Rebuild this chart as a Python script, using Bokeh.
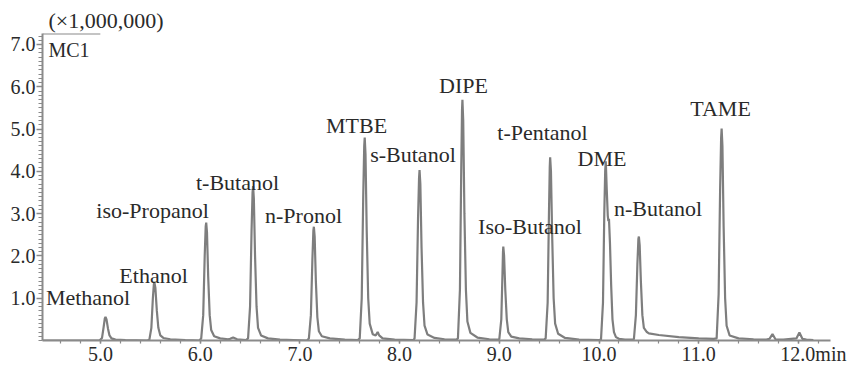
import numpy as np
from bokeh.plotting import figure
from bokeh.models import FixedTicker, NumeralTickFormatter, Label, ColumnDataSource
from bokeh.core.properties import value
from bokeh.embed import file_html
from bokeh.resources import INLINE

# ---- chromatogram trace (time in min, signal in x1,000,000) ----
trace_points = [
    (4.42, 0.0), (4.99, 0.0), (5.015, 0.06), (5.03, 0.30), (5.043, 0.52), (5.05, 0.56), (5.06, 0.50),
    (5.075, 0.28), (5.09, 0.12), (5.11, 0.05), (5.15, 0.02), (5.25, 0.01), (5.47, 0.0),
    (5.49, 0.02), (5.51, 0.30), (5.525, 1.00), (5.535, 1.33), (5.54, 1.38), (5.55, 1.25), (5.565, 0.70),
    (5.58, 0.30), (5.60, 0.12), (5.63, 0.06), (5.70, 0.03), (5.85, 0.01), (5.99, 0.0),
    (6.01, 0.05), (6.03, 0.60), (6.045, 2.00), (6.055, 2.70), (6.06, 2.79), (6.068, 2.55), (6.08, 1.50),
    (6.095, 0.60), (6.11, 0.25), (6.14, 0.10), (6.20, 0.05), (6.28, 0.03),
    (6.30, 0.04), (6.33, 0.07), (6.37, 0.03), (6.46, 0.01),
    (6.48, 0.05), (6.50, 0.80), (6.515, 2.60), (6.525, 3.50), (6.53, 3.65), (6.538, 3.35), (6.55, 2.00),
    (6.565, 0.80), (6.58, 0.30), (6.61, 0.12), (6.68, 0.05), (6.80, 0.02), (7.07, 0.0),
    (7.09, 0.05), (7.11, 0.60), (7.125, 1.90), (7.135, 2.60), (7.14, 2.69), (7.148, 2.45), (7.16, 1.40),
    (7.175, 0.55), (7.19, 0.22), (7.22, 0.10), (7.30, 0.05), (7.45, 0.02), (7.58, 0.01),
    (7.60, 0.05), (7.62, 1.00), (7.635, 3.40), (7.645, 4.60), (7.65, 4.80), (7.658, 4.40), (7.67, 2.60),
    (7.685, 1.00), (7.70, 0.40), (7.73, 0.15), (7.76, 0.12), (7.78, 0.20), (7.795, 0.12), (7.83, 0.05),
    (7.95, 0.02), (8.14, 0.01),
    (8.15, 0.05), (8.17, 0.90), (8.185, 2.90), (8.195, 3.85), (8.20, 4.03), (8.208, 3.70), (8.22, 2.20),
    (8.235, 0.90), (8.25, 0.35), (8.28, 0.14), (8.35, 0.06), (8.45, 0.03), (8.57, 0.02),
    (8.585, 0.05), (8.605, 1.20), (8.618, 4.00), (8.626, 5.45), (8.63, 5.69), (8.638, 5.20), (8.65, 3.00),
    (8.665, 1.20), (8.68, 0.45), (8.71, 0.18), (8.78, 0.07), (8.90, 0.03), (8.98, 0.02),
    (9.00, 0.03), (9.02, 0.50), (9.032, 1.60), (9.037, 2.10), (9.04, 2.22), (9.048, 2.00), (9.06, 1.20),
    (9.075, 0.50), (9.09, 0.20), (9.12, 0.09), (9.20, 0.05), (9.33, 0.03), (9.45, 0.02),
    (9.465, 0.05), (9.485, 0.90), (9.498, 3.00), (9.506, 4.10), (9.51, 4.33), (9.518, 4.00), (9.53, 2.50),
    (9.545, 1.00), (9.56, 0.40), (9.59, 0.16), (9.66, 0.06), (9.80, 0.02), (10.0, 0.01),
    (10.02, 0.02), (10.04, 0.90), (10.053, 3.00), (10.062, 4.00), (10.068, 4.24), (10.078, 3.55),
    (10.088, 2.95), (10.094, 2.82), (10.10, 2.88), (10.11, 2.30), (10.122, 1.30), (10.135, 0.50),
    (10.15, 0.20), (10.17, 0.08), (10.20, 0.04), (10.26, 0.02), (10.33, 0.02),
    (10.35, 0.03), (10.37, 0.60), (10.385, 1.80), (10.395, 2.40), (10.40, 2.46), (10.408, 2.25),
    (10.42, 1.40), (10.435, 0.60), (10.45, 0.30), (10.48, 0.20), (10.50, 0.17), (10.60, 0.13),
    (10.80, 0.08), (11.00, 0.05), (11.15, 0.04),
    (11.18, 0.05), (11.20, 1.10), (11.215, 3.60), (11.225, 4.80), (11.23, 5.01), (11.238, 4.60),
    (11.25, 2.70), (11.265, 1.00), (11.28, 0.35), (11.31, 0.12), (11.40, 0.05), (11.55, 0.03), (11.68, 0.02),
    (11.71, 0.04), (11.74, 0.15), (11.77, 0.03), (11.85, 0.02), (11.98, 0.05), (12.01, 0.19),
    (12.04, 0.04), (12.08, 0.02), (12.15, 0.01),
]
trace_time = [pt[0] for pt in trace_points]
trace_signal = [pt[1] for pt in trace_points]

# ---- peak labels (centre x in min, baseline y in signal units) ----
peak_names = ["Methanol", "Ethanol", "iso-Propanol", "t-Butanol", "n-Pronol", "MTBE", "s-Butanol",
              "DIPE", "Iso-Butanol", "t-Pentanol", "DME", "n-Butanol", "TAME"]
label_time = [4.875, 5.532, 5.522, 6.374, 7.036, 7.568, 8.134, 8.641, 9.308, 9.433, 10.03, 10.592, 11.219]
label_signal = [1.007, 1.546, 3.068, 3.747, 2.951, 5.082, 4.403, 6.019, 2.693, 4.918, 4.309, 3.115, 5.48]

x_ticks = [5, 6, 7, 8, 9, 10, 11, 12]
x_minor = [round(v, 1) for v in np.arange(4.6, 12.31, 0.2)]
y_ticks = [1, 2, 3, 4, 5, 6, 7]
y_minor = [round(v, 1) for v in np.arange(0.0, 7.26, 0.1)]

X_START, X_END = 4.418, 12.322
Y_START, Y_END = 0.0, 7.26

SERIF = "Liberation Serif"
AXIS_GRAY = "#8a8a8a"
TEXT = "#2a2a2a"

p = figure(width=850, height=367,
           x_range=(X_START, X_END), y_range=(Y_START, Y_END),
           output_backend="svg", toolbar_location=None,
           min_border_left=42, min_border_right=20, min_border_top=33, min_border_bottom=24)
p.grid.visible = False
p.outline_line_color = None
p.background_fill_color = "white"

# scale factor shown as the title
p.title.text = "(×1,000,000)"
p.title.align = "left"
p.title.offset = 6
p.title.standoff = 1
p.title.text_font = SERIF
p.title.text_font_size = "22px"
p.title.text_font_style = "normal"
p.title.text_color = TEXT

# axes
for ax in (p.xaxis[0], p.yaxis[0]):
    ax.axis_line_color = AXIS_GRAY
    ax.axis_line_width = 2
    ax.major_tick_line_color = AXIS_GRAY
    ax.minor_tick_line_color = AXIS_GRAY
    ax.major_tick_line_width = 1.5
    ax.minor_tick_line_width = 1.2
    ax.major_tick_in = 0
    ax.minor_tick_in = 0
    ax.major_label_text_font = SERIF
    ax.major_label_text_font_size = "20px"
    ax.major_label_text_color = TEXT
    ax.major_label_standoff = 1
    ax.formatter = NumeralTickFormatter(format="0.0")

p.xaxis.ticker = FixedTicker(ticks=x_ticks, minor_ticks=x_minor)
p.xaxis.major_tick_out = 3
p.xaxis.minor_tick_out = 3
p.xaxis.major_label_standoff = -1
p.xaxis.major_label_overrides = {12: "\u00a0" * 6 + "12.0min"}
p.yaxis.ticker = FixedTicker(ticks=y_ticks, minor_ticks=y_minor)
p.yaxis.major_tick_out = 6
p.yaxis.minor_tick_out = 4

# short top bar of the frame
p.segment(x0=[X_START], y0=[Y_END], x1=[X_START + 0.58], y1=[Y_END], line_color=AXIS_GRAY, line_width=2)

# trace
p.line(trace_time, trace_signal, line_color="#7e7e7e", line_width=2.2)

# peak labels
src = ColumnDataSource(dict(t=label_time, v=label_signal, name=peak_names))
p.text(x="t", y="v", text="name", source=src, text_font=value(SERIF), text_font_size=value("22px"),
       text_align="center", text_baseline="alphabetic", text_color=TEXT)

# channel label
p.add_layout(Label(x=4.478, y=6.862, text="MC1", text_font=SERIF, text_font_size="20px",
                   text_align="left", text_baseline="alphabetic", text_color=TEXT))

open("out.html", "w").write(file_html(p, INLINE))
